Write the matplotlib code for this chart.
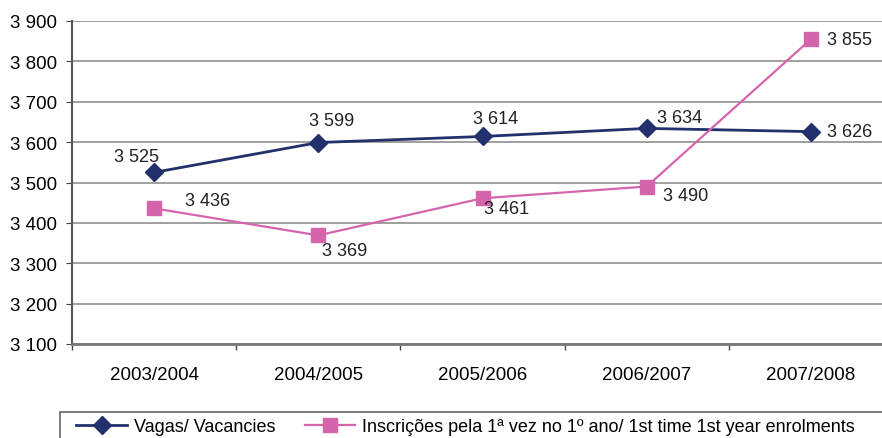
import matplotlib.pyplot as plt
from matplotlib.patches import Rectangle
from matplotlib.ticker import FuncFormatter, FixedLocator

plt.rcParams["font.family"] = ["Liberation Sans", "DejaVu Sans"]

years = ["2003/2004", "2004/2005", "2005/2006", "2006/2007", "2007/2008"]
vagas = [3525, 3599, 3614, 3634, 3626]
inscricoes = [3436, 3369, 3461, 3490, 3855]

# label offsets in pixels (dx, dy)
vagas_off = [(-18, 16), (13, 22), (13, 18), (33, 11), (39, 0)]
insc_off = [(53, 8), (26, -15), (24, -10), (39, -9), (39, 0)]

navy = "#22306c"
pink = "#d465ac"
grid = "#8f8f8f"


def fmt(v):
    return f"{int(v):,}".replace(",", " ")


fig = plt.figure(figsize=(8.82, 4.39), dpi=100)
ax = fig.add_axes([72 / 882, 1 - 345 / 439, 821 / 882, 323 / 439])

x = list(range(len(years)))
ax.plot(x, vagas, color=navy, lw=2, marker="D", ms=9, mec=navy, mfc=navy,
        label="Vagas/ Vacancies", zorder=3, clip_on=False)
ax.plot(x, inscricoes, color=pink, lw=1.6, marker="s", ms=10, mec=pink, mfc=pink,
        label="Inscrições pela 1ª vez no 1º ano/ 1st time 1st year enrolments",
        zorder=3, clip_on=False)

for xi, v, off in zip(x, vagas, vagas_off):
    ax.annotate(fmt(v), (xi, v), xytext=off, textcoords="offset pixels",
                ha="center", va="center", fontsize=13, color="#222222")
for xi, v, off in zip(x, inscricoes, insc_off):
    ax.annotate(fmt(v), (xi, v), xytext=off, textcoords="offset pixels",
                ha="center", va="center", fontsize=13, color="#222222")

ax.set_xlim(-0.5, 4.5)
ax.set_ylim(3100, 3900)
ax.set_yticks(range(3100, 3901, 100))
ax.yaxis.set_major_formatter(FuncFormatter(lambda v, p: fmt(v)))
ax.yaxis.grid(True, color=grid, lw=1.2)
ax.set_axisbelow(True)

ax.set_xticks(x)
ax.set_xticklabels(years)
ax.xaxis.set_minor_locator(FixedLocator([-0.5, 0.5, 1.5, 2.5, 3.5]))
ax.tick_params(axis="x", which="major", length=0, pad=16, labelsize=13.5)
ax.tick_params(axis="x", which="minor", length=4, color="#444444", width=1)
ax.tick_params(axis="y", length=4.5, color="#444444", labelsize=13.5, pad=6.5)

for s in ["top", "right"]:
    ax.spines[s].set_visible(False)
ax.spines["left"].set_color("#555555")
ax.spines["left"].set_linewidth(1.5)
ax.spines["bottom"].set_color("#777777")
ax.spines["bottom"].set_linewidth(2)

# legend frame runs past the right and bottom edges, as in the original
fig.patches.append(Rectangle((60 / 882, -0.05), 1.0, 1 - 413 / 439 + 0.05,
                             transform=fig.transFigure, fill=False,
                             edgecolor="#666666", lw=1.2))
fig.legend(loc="upper left", bbox_to_anchor=(71 / 882, 1 - 414 / 439),
           ncol=2, fontsize=13, frameon=False, handlelength=2.8,
           columnspacing=1.6, borderaxespad=0, borderpad=0.3,
           handletextpad=0.4)

fig.savefig("out.png", dpi=100)
